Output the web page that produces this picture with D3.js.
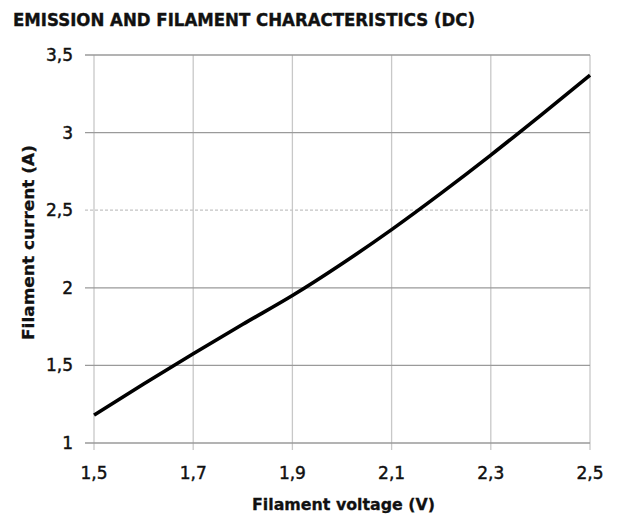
<!DOCTYPE html>
<html><head><meta charset="utf-8">
<script src="https://cdn.jsdelivr.net/npm/d3@7"></script>
<style>body{margin:0;background:#fff}svg{display:block}</style>
</head><body>
<script>
const voltage = [1.5, 1.6, 1.7, 1.8, 1.9, 2.0, 2.1, 2.2, 2.3, 2.4, 2.5];
const current = [1.18, 1.38, 1.575, 1.765, 1.95, 2.155, 2.375, 2.61, 2.855, 3.11, 3.37];
const xTicks = [1.5, 1.7, 1.9, 2.1, 2.3, 2.5];
const yTicks = [1, 1.5, 2, 2.5, 3, 3.5];
const title = "EMISSION AND FILAMENT CHARACTERISTICS (DC)";
const xTitle = "Filament voltage (V)";
const yTitle = "Filament current (A)";

const W = 621, H = 517;
const svg = d3.select("body").append("svg").attr("width", W).attr("height", H);
const x = d3.scaleLinear().domain([1.5, 2.5]).range([94, 590]);
const y = d3.scaleLinear().domain([1, 3.5]).range([443, 55]);
const fmt = d => String(d).replace(".", ",");

// vertical gridlines
svg.append("g").selectAll("line").data(xTicks).join("line")
  .attr("x1", d => x(d)).attr("x2", d => x(d))
  .attr("y1", y(3.5)).attr("y2", y(1) + 7)
  .attr("stroke", "#c8c8c8").attr("stroke-width", 1.3);

// horizontal gridlines
svg.append("g").selectAll("line").data(yTicks).join("line")
  .attr("x1", x(1.5) - 9).attr("x2", x(2.5))
  .attr("y1", d => y(d)).attr("y2", d => y(d))
  .attr("stroke", d => d === 2.5 ? "#c4c4c4" : "#9a9a9a")
  .attr("stroke-dasharray", d => d === 2.5 ? "3,2" : null)
  .attr("stroke-width", 1.3);

// tick labels
svg.append("g").selectAll("text").data(yTicks).join("text")
  .attr("x", 73).attr("y", d => y(d) + 6)
  .attr("text-anchor", "end")
  .attr("font-family", "DejaVu Sans").attr("font-size", 17)
  .attr("fill", "#111").attr("stroke", "#111").attr("stroke-width", 0.45)
  .text(fmt);
svg.append("g").selectAll("text").data(xTicks).join("text")
  .attr("x", d => x(d)).attr("y", 479)
  .attr("text-anchor", "middle")
  .attr("font-family", "DejaVu Sans").attr("font-size", 17)
  .attr("fill", "#111").attr("stroke", "#111").attr("stroke-width", 0.45)
  .text(fmt);

// curve
const line = d3.line().x((d, i) => x(voltage[i])).y(d => y(d)).curve(d3.curveMonotoneX);
svg.append("path").datum(current).attr("d", line)
  .attr("fill", "none").attr("stroke", "#000").attr("stroke-width", 3.6)
  .attr("stroke-linecap", "butt");

// titles
svg.append("text").attr("x", 13).attr("y", 26)
  .attr("font-family", "DejaVu Sans").attr("font-weight", "bold").attr("font-size", 17.5)
  .attr("textLength", 462).attr("lengthAdjust", "spacingAndGlyphs")
  .attr("fill", "#111").attr("stroke", "#111").attr("stroke-width", 0.4).text(title);
svg.append("text").attr("x", 252).attr("y", 510)
  .attr("font-family", "DejaVu Sans").attr("font-weight", "bold").attr("font-size", 16)
  .attr("textLength", 183).attr("lengthAdjust", "spacingAndGlyphs")
  .attr("fill", "#111").attr("stroke", "#111").attr("stroke-width", 0.3).text(xTitle);
svg.append("text").attr("transform", "translate(34,340) rotate(-90)")
  .attr("font-family", "DejaVu Sans").attr("font-weight", "bold").attr("font-size", 16)
  .attr("textLength", 195).attr("lengthAdjust", "spacingAndGlyphs")
  .attr("fill", "#111").attr("stroke", "#111").attr("stroke-width", 0.3).text(yTitle);
</script>
</body></html>
